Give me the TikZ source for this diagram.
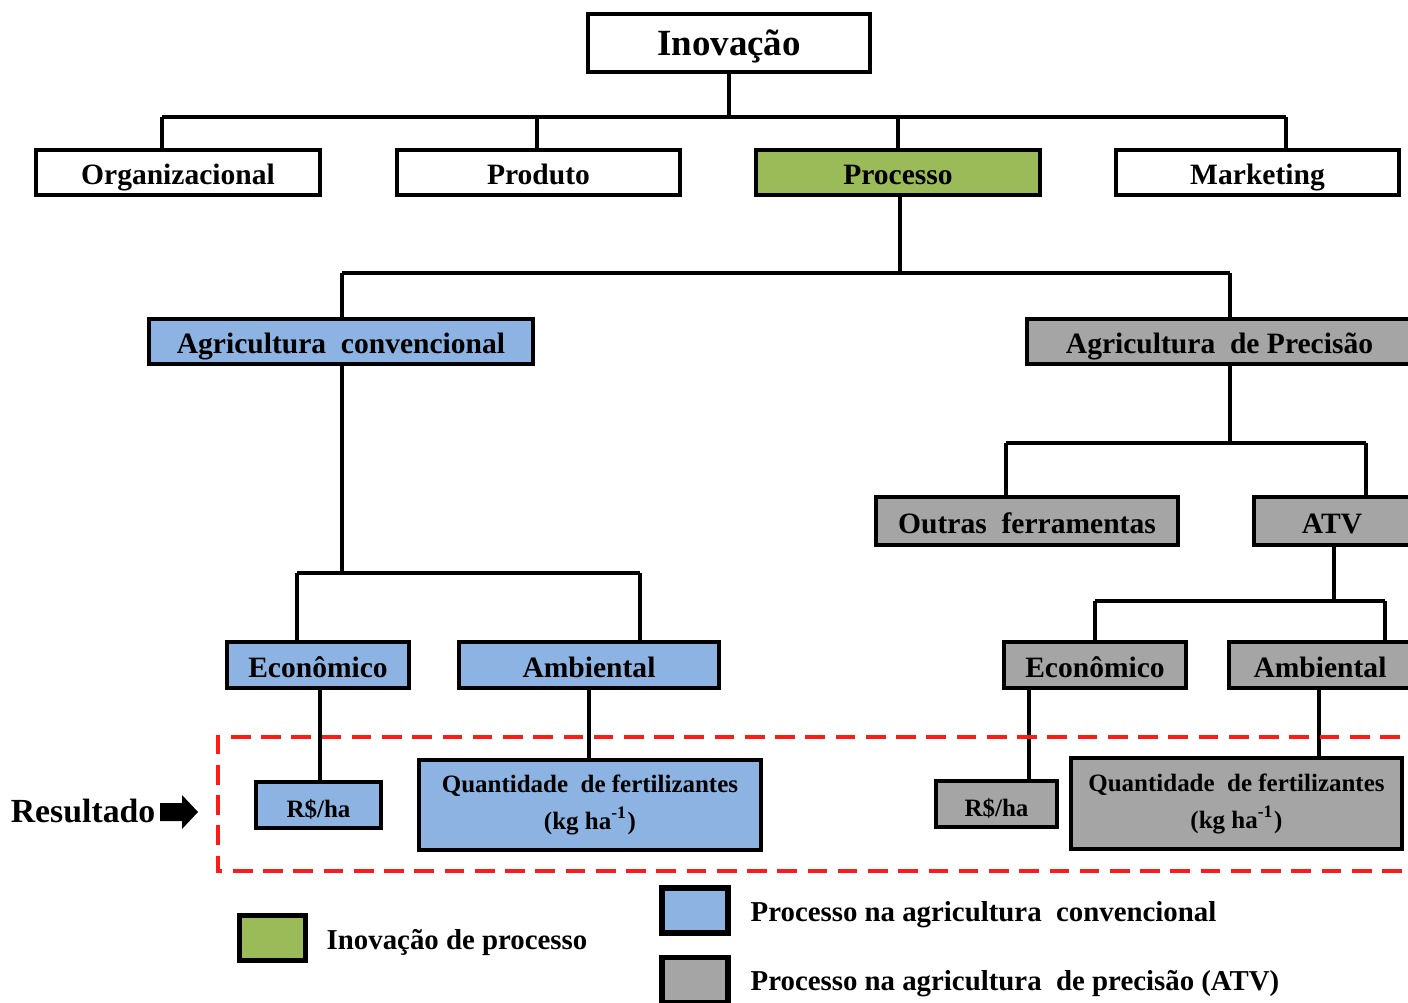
\documentclass[tikz,border=0pt]{standalone}
\usepackage{fontspec}
\setmainfont{Liberation Serif}
\definecolor{cgreen}{HTML}{9BBB59}
\definecolor{cblue}{HTML}{8DB3E2}
\definecolor{cgray}{HTML}{A5A5A5}
\definecolor{cred}{HTML}{FF1A1A}
\begin{document}
\begin{tikzpicture}[x=0.01cm,y=-0.01cm,
  box/.style={draw=black, line width=1.2pt, inner sep=0pt, align=center,
    font=\bfseries\fontsize{8.4}{10}\selectfont},
  onebox/.style={box, text height=0.76em, text depth=0.06em},
  small/.style={font=\bfseries\fontsize{7.1}{10.5}\selectfont},
  conn/.style={line width=0.9pt},
  legbox/.style={draw=black, line width=1.5pt, minimum width=0.66cm, minimum height=0.45cm, inner sep=0pt},
  legtext/.style={anchor=west, inner sep=0pt, font=\bfseries\fontsize{8.2}{10}\selectfont},
  reddash/.style={draw=cred, line width=1pt, dash pattern=on 5.6pt off 3pt}]
\useasboundingbox (0,0) rectangle (1408,1002);
\clip (0,0) rectangle (1408,1002);

% level 0
\node[onebox, minimum width=2.82cm, minimum height=0.58cm, font=\bfseries\fontsize{10.5}{12}\selectfont] (inov) at (729,43) {Inovação};
% level 1
\node[onebox, minimum width=2.84cm, minimum height=0.45cm] (org) at (178,172.5) {Organizacional};
\node[onebox, minimum width=2.83cm, minimum height=0.45cm] (prod) at (538.5,172.5) {Produto};
\node[onebox, fill=cgreen, minimum width=2.84cm, minimum height=0.45cm] (proc) at (898,172.5) {Processo};
\node[onebox, minimum width=2.83cm, minimum height=0.45cm] (mkt) at (1257.5,172.5) {Marketing};
% level 2
\node[onebox, fill=cblue, minimum width=3.84cm, minimum height=0.45cm] (agc) at (341,341.5) {Agricultura\ \ convencional};
\node[onebox, fill=cgray, minimum width=3.85cm, minimum height=0.45cm] (agp) at (1219.5,341.5) {Agricultura\ \ de Precisão};
% level 3 right
\node[onebox, fill=cgray, minimum width=3.02cm, minimum height=0.48cm] (outras) at (1027,521) {Outras\ \ ferramentas};
\node[onebox, fill=cgray, minimum width=1.56cm, minimum height=0.48cm] (atv) at (1332,521) {ATV};
% level 4
\node[onebox, fill=cblue, minimum width=1.82cm, minimum height=0.46cm] (econ1) at (318,665) {Econômico};
\node[onebox, fill=cblue, minimum width=2.60cm, minimum height=0.46cm] (amb1) at (589,665) {Ambiental};
\node[onebox, fill=cgray, minimum width=1.82cm, minimum height=0.46cm] (econ2) at (1095,665) {Econômico};
\node[onebox, fill=cgray, minimum width=1.82cm, minimum height=0.46cm] (amb2) at (1320,665) {Ambiental};
% results
\node[onebox, small, fill=cblue, minimum width=1.25cm, minimum height=0.46cm] (rs1) at (318.5,805) {R\$/ha};
\node[box, small, fill=cblue, minimum width=3.42cm, minimum height=0.90cm] (q1) at (590,805) {Quantidade\ \ de\ fertilizantes\\(kg ha\textsuperscript{\fontsize{5}{5}\selectfont -1})};
\node[onebox, small, fill=cgray, minimum width=1.21cm, minimum height=0.46cm] (rs2) at (996.5,804) {R\$/ha};
\node[box, small, fill=cgray, minimum width=3.31cm, minimum height=0.91cm] (q2) at (1236.5,803.5) {Quantidade\ \ de\ fertilizantes\\(kg ha\textsuperscript{\fontsize{5}{5}\selectfont -1})};

% connectors level 0 -> 1
\coordinate (b1) at (729,117);
\coordinate (b1l) at (162,117);
\coordinate (b1p) at (537,117);
\coordinate (b1c) at (898,117);
\coordinate (b1r) at (1286,117);
\draw[conn] (inov.south) -- (b1);
\draw[conn] (b1l) -- (b1r);
\draw[conn] (b1l) -- (b1l |- org.north);
\draw[conn] (b1p) -- (b1p |- prod.north);
\draw[conn] (b1c) -- (b1c |- proc.north);
\draw[conn] (b1r) -- (b1r |- mkt.north);
% processo -> agriculture
\coordinate (c2m) at (900,273);
\coordinate (c2l) at (342,273);
\coordinate (c2r) at (1230,273);
\draw[conn] (c2m |- proc.south) -- (c2m);
\draw[conn] (c2l) -- (c2r);
\draw[conn] (c2l) -- (c2l |- agc.north);
\draw[conn] (c2r) -- (c2r |- agp.north);
% precisao -> outras / ATV
\coordinate (c3m) at (1230,443);
\coordinate (c3l) at (1006,443);
\coordinate (c3r) at (1366,443);
\draw[conn] (c3m |- agp.south) -- (c3m);
\draw[conn] (c3l) -- (c3r);
\draw[conn] (c3l) -- (c3l |- outras.north);
\draw[conn] (c3r) -- (c3r |- atv.north);
% convencional -> econ / amb
\coordinate (c4m) at (342,573);
\coordinate (c4l) at (297,573);
\coordinate (c4r) at (640,573);
\draw[conn] (c4m |- agc.south) -- (c4m);
\draw[conn] (c4l) -- (c4r);
\draw[conn] (c4l) -- (c4l |- econ1.north);
\draw[conn] (c4r) -- (c4r |- amb1.north);
% ATV -> econ / amb
\coordinate (c5m) at (1334,601);
\coordinate (c5l) at (1095,601);
\coordinate (c5r) at (1385,601);
\draw[conn] (c5m |- atv.south) -- (c5m);
\draw[conn] (c5l) -- (c5r);
\draw[conn] (c5l) -- (c5l |- econ2.north);
\draw[conn] (c5r) -- (c5r |- amb2.north);
% to results
\coordinate (e1) at (320,700);
\coordinate (a1) at (589,700);
\coordinate (e2) at (1029,700);
\coordinate (a2) at (1319,700);
\draw[conn] (e1 |- econ1.south) -- (e1 |- rs1.north);
\draw[conn] (a1 |- amb1.south) -- (a1 |- q1.north);
\draw[conn] (e2 |- econ2.south) -- (e2 |- rs2.north);
\draw[conn] (a2 |- amb2.south) -- (a2 |- q2.north);

% dashed result region
\draw[reddash] (1430,737) -- (218,737) -- (218,871) -- (1430,871);

% Resultado
\node[anchor=east, inner sep=0pt, font=\bfseries\fontsize{9.6}{11}\selectfont] (res) at (156,811) {Resultado};
\fill[black] (160,803) -- (182,803) -- (182,795) -- (198,812) -- (182,829) -- (182,821) -- (160,821) -- cycle;

% legend
\node[legbox, fill=cgreen] (lg1) at (272.5,938) {};
\node[legtext] (lt1) at (326,943) {Inovação de processo};
\node[legbox, fill=cblue] (lg2) at (695,910.5) {};
\node[legtext] (lt2) at (750,915) {Processo na agricultura\ \ convencional};
\node[legbox, fill=cgray] (lg3) at (695,980) {};
\node[legtext] (lt3) at (750,984) {Processo na agricultura\ \ de precisão (ATV)};
\end{tikzpicture}
\end{document}
